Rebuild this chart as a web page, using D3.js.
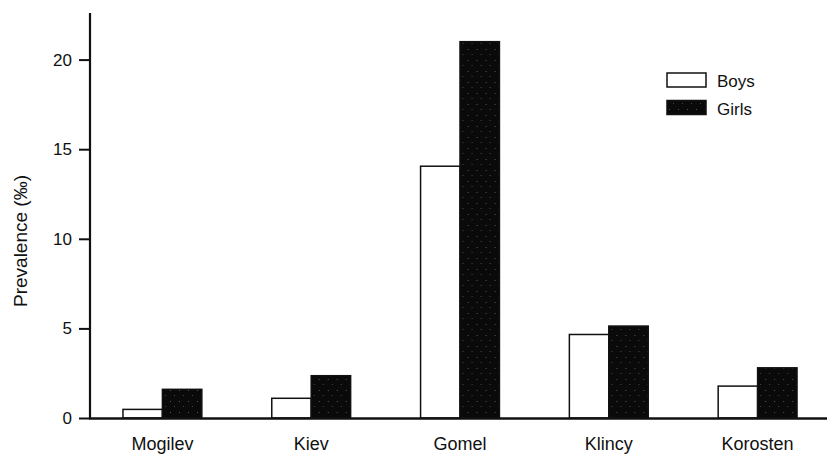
<!DOCTYPE html>
<html>
<head>
<meta charset="utf-8">
<script src="https://cdn.jsdelivr.net/npm/d3@7"></script>
<style>
  body { margin: 0; background: #fff; }
  text { font-family: "Liberation Sans", Arial, sans-serif; fill: #111; }
</style>
</head>
<body>
<div id="chart"></div>
<script>
// Data
const towns = ["Mogilev", "Kiev", "Gomel", "Klincy", "Korosten"];
const groups = ["Boys", "Girls"];
const boys = [0.48, 1.1, 14.05, 4.66, 1.78];
const girls = [1.6, 2.36, 21.0, 5.13, 2.8];
const yTicks = [0, 5, 10, 15, 20];

const data = towns.map((t, i) => ({town: t, Boys: boys[i], Girls: girls[i]}));

const W = 827, H = 454;
const margin = {top: 13, right: 0, bottom: 36, left: 90};
const width = W - margin.left - margin.right;
const height = H - margin.top - margin.bottom;

const svg = d3.select("#chart").append("svg")
    .attr("width", W)
    .attr("height", H)
  .append("g")
    .attr("transform", `translate(${margin.left},${margin.top})`);

// stippled black fill for girls
const defs = svg.append("defs");
const pat = defs.append("pattern")
    .attr("id", "stipple")
    .attr("width", 9).attr("height", 11)
    .attr("patternUnits", "userSpaceOnUse");
pat.append("rect").attr("width", 9).attr("height", 11).attr("fill", "#0a0a0a");
pat.append("rect").attr("x", 2).attr("y", 3).attr("width", 1).attr("height", 1).attr("fill", "#555");
pat.append("rect").attr("x", 6).attr("y", 8).attr("width", 1).attr("height", 1).attr("fill", "#444");

// scales
const x0 = d3.scaleBand()
    .domain(towns)
    .range([-2, 742])
    .paddingInner(0.47)
    .paddingOuter(0.235);

const x1 = d3.scaleBand()
    .domain(groups)
    .range([0, x0.bandwidth()]);

const y = d3.scaleLinear()
    .domain([0, 22.6])
    .range([height, 0]);

// bars
const barGroups = svg.selectAll(".bar-group")
    .data(data)
    .enter()
    .append("g")
    .attr("class", "bar-group")
    .attr("transform", d => `translate(${x0(d.town)},0)`);

barGroups.selectAll("rect")
    .data(d => groups.map(g => ({key: g, value: d[g]})))
    .enter()
    .append("rect")
    .attr("x", d => x1(d.key))
    .attr("y", d => y(d.value))
    .attr("width", x1.bandwidth())
    .attr("height", d => height - y(d.value))
    .attr("fill", d => d.key === "Boys" ? "#fff" : "url(#stipple)")
    .attr("stroke", "#111")
    .attr("stroke-width", 1.5);

// y axis
const yAxis = svg.append("g")
    .call(d3.axisLeft(y).tickValues(yTicks).tickSize(11).tickPadding(7));
yAxis.select(".domain").remove();
yAxis.selectAll(".tick line").attr("stroke", "#111").attr("stroke-width", 2);
yAxis.selectAll(".tick text")
    .style("font-size", "17px")
    .attr("fill", "#111");

svg.append("line")
    .attr("x1", 0).attr("x2", 0)
    .attr("y1", 0).attr("y2", height + 1)
    .attr("stroke", "#111")
    .attr("stroke-width", 2.2);

// x axis (baseline only, labels under groups)
const xAxis = svg.append("g")
    .attr("transform", `translate(0,${height})`)
    .call(d3.axisBottom(x0).tickSize(0).tickPadding(19));
xAxis.select(".domain").remove();
xAxis.selectAll(".tick text")
    .style("font-size", "18px")
    .attr("fill", "#111");

svg.append("line")
    .attr("x1", -1).attr("x2", width)
    .attr("y1", height + 0.5).attr("y2", height + 0.5)
    .attr("stroke", "#111")
    .attr("stroke-width", 2.5);

// y axis label
svg.append("text")
    .attr("transform", "rotate(-90)")
    .attr("x", -(241 - margin.top))
    .attr("y", -margin.left + 27)
    .style("text-anchor", "middle")
    .style("font-size", "19px")
    .text("Prevalence (‰)");

// legend
const legend = svg.append("g")
    .attr("transform", `translate(${667 - margin.left},${73 - margin.top})`);

groups.forEach((g, i) => {
    legend.append("rect")
        .attr("x", 0)
        .attr("y", i * 27.5)
        .attr("width", 39)
        .attr("height", 14)
        .attr("fill", g === "Boys" ? "#fff" : "url(#stipple)")
        .attr("stroke", "#111")
        .attr("stroke-width", 1.5);
    legend.append("text")
        .attr("x", 50)
        .attr("y", i * 27.5 + 14)
        .style("font-size", "17px")
        .text(g);
});
</script>
</body>
</html>
